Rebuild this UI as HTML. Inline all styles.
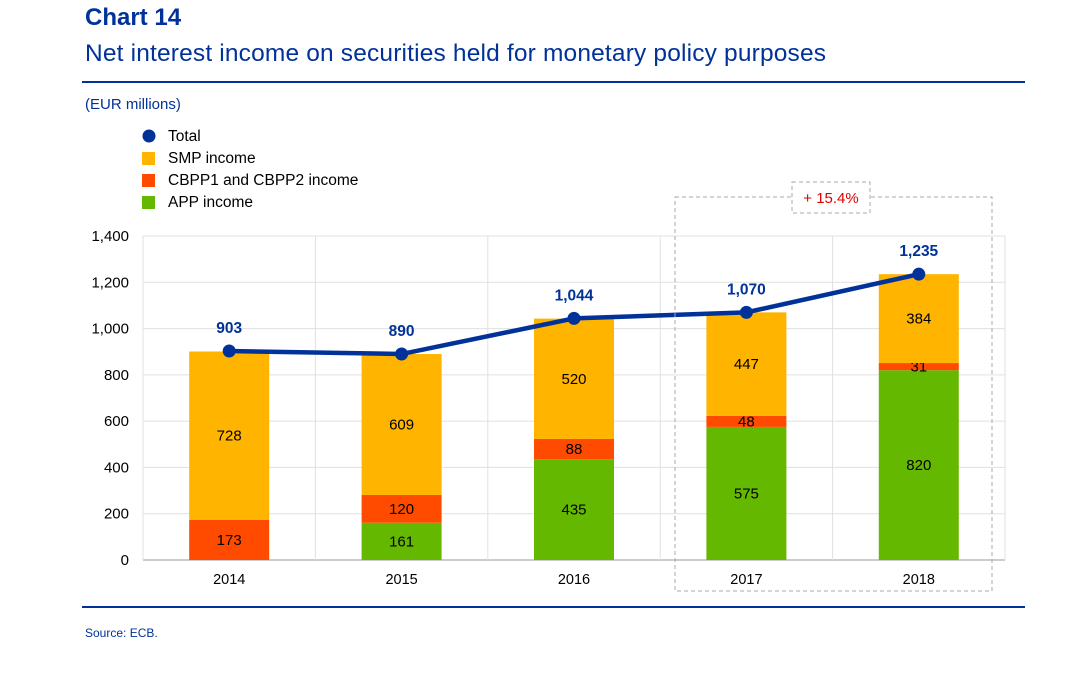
<!DOCTYPE html>
<html><head><meta charset="utf-8"><style>
body{margin:0;background:#fff;font-family:"Liberation Sans",sans-serif;}
svg text{font-family:"Liberation Sans",sans-serif;}
</style></head><body>
<svg id="c" width="1080" height="670" xmlns="http://www.w3.org/2000/svg">
<text x="85" y="25" font-size="24" font-weight="bold" fill="#003299">Chart 14</text>
<text x="85" y="61" font-size="24.5" fill="#003299" textLength="741">Net interest income on securities held for monetary policy purposes</text>
<line x1="82" y1="82" x2="1025" y2="82" stroke="#003299" stroke-width="2"/>
<text x="85" y="109" font-size="15" fill="#003299">(EUR millions)</text>
<g>
<circle cx="149" cy="136" r="6.5" fill="#003299"/>
<text x="168" y="141" font-size="15.5" fill="#000">Total</text>
<rect x="142" y="152" width="13" height="13" fill="#FFB400"/>
<text x="168" y="163" font-size="15.5" fill="#000">SMP income</text>
<rect x="142" y="174" width="13" height="13" fill="#FF4B00"/>
<text x="168" y="185" font-size="15.5" fill="#000">CBPP1 and CBPP2 income</text>
<rect x="142" y="196" width="13" height="13" fill="#65B800"/>
<text x="168" y="207" font-size="15.5" fill="#000">APP income</text>
</g>
<g id="plot"></g>
<line x1="82" y1="607" x2="1025" y2="607" stroke="#003299" stroke-width="2"/>
<text x="85" y="637" font-size="12" fill="#003299">Source: ECB.</text>
</svg>
<script>
const categories=["2014","2015","2016","2017","2018"];
const appIncome=[0,161,435,575,820];
const cbppIncome=[173,120,88,48,31];
const smpIncome=[728,609,520,447,384];
const totals=[903,890,1044,1070,1235];
const yTicks=[0,200,400,600,800,1000,1200,1400];
const yTickLabels=["0","200","400","600","800","1,000","1,200","1,400"];
const totalLabels=["903","890","1,044","1,070","1,235"];
const ns="http://www.w3.org/2000/svg";
const g=document.getElementById('plot');
const L=143,R=1005,T=236,B=560,yMax=1400;
const y=v=>B-(v/yMax)*(B-T);
const band=(R-L)/categories.length;
const x=i=>L+band*(i+0.5);
function mk(tag,a,txt){const e=document.createElementNS(ns,tag);for(const k in a)e.setAttribute(k,a[k]);if(txt!==undefined)e.textContent=txt;g.appendChild(e);return e;}
yTicks.forEach((t,i)=>{
 let e=mk('line',{x1:L,x2:R,y1:y(t),y2:y(t),stroke:t===0?'#999':'#e0e0e0','stroke-width':1});
 
 
 e=mk('text',{x:L-14,y:y(t)+5,'font-size':15,'text-anchor':'end',fill:'#000'},yTickLabels[i]);
 
 
});
for(let i=0;i<=categories.length;i++){
 const e=mk('line',{x1:L+band*i,x2:L+band*i,y1:T,y2:B,stroke:'#e0e0e0','stroke-width':1});
 
 
}
const bw=80;
categories.forEach((c,i)=>{
 let base=0;
 [[appIncome,'#65B800','bar-app'],[cbppIncome,'#FF4B00','bar-cbpp'],[smpIncome,'#FFB400','bar-smp']].forEach(([arr,col,nm])=>{
  const v=arr[i]; if(!v) return;
  let e=mk('rect',{x:x(i)-bw/2,y:y(base+v),width:bw,height:y(base)-y(base+v),fill:col});
  
  
  e=mk('text',{x:x(i),y:(y(base)+y(base+v))/2+5,'font-size':15,'text-anchor':'middle',fill:'#000'},String(v));
  
  
  base+=v;
 });
 const e=mk('text',{x:x(i),y:B+24,'font-size':14.5,'text-anchor':'middle',fill:'#000'},c);
 
 
});
let ln=mk('polyline',{points:totals.map((v,i)=>x(i)+','+y(v)).join(' '),fill:'none',stroke:'#003299','stroke-width':4.5});


totals.forEach((v,i)=>{
 let e=mk('circle',{cx:x(i),cy:y(v),r:6.5,fill:'#003299'});
 
 
 e=mk('text',{x:x(i),y:y(v)-18,'font-size':15.5,'font-weight':'bold','text-anchor':'middle',fill:'#003299'},totalLabels[i]);
 
 
});
let hb=mk('rect',{x:675,y:197,width:317,height:394,fill:'none',stroke:'#aaa','stroke-dasharray':'4,3','stroke-width':1});


let cb=mk('rect',{x:792,y:182,width:78,height:31,fill:'#fff',stroke:'#aaa','stroke-dasharray':'4,3'});


let ct=mk('text',{x:831,y:203,'font-size':15,'text-anchor':'middle',fill:'#e00000'},'+ 15.4%');


</script>
</body></html>
